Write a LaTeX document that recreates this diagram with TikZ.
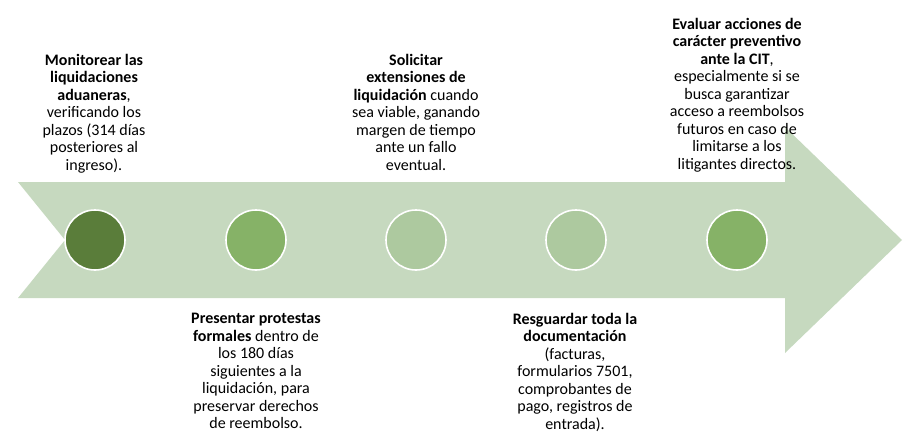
\documentclass[tikz,border=0pt]{standalone}
\usepackage{fontspec}
\setmainfont{Carlito}
\definecolor{arrowc}{HTML}{C6D9BF}
\definecolor{dkg}{HTML}{5A7D3A}
\definecolor{mdg}{HTML}{86B267}
\definecolor{ltg}{HTML}{ADC99F}
\begin{document}
\begin{tikzpicture}[x=1pt,y=-1pt,
  dot/.style={circle, minimum size=60pt, inner sep=0pt, draw=white, line width=1.6pt},
  txt/.style={align=center, inner sep=0pt, anchor=north, font=\fontsize{16}{17.5}\selectfont}]
\useasboundingbox (0,0) rectangle (912,444);
\fill[arrowc] (18,182) -- (785,182) -- (785,127) -- (902,240) -- (785,353) -- (785,298) -- (18,298) -- (65,240) -- cycle;
\node[dot, fill=dkg] (c1) at (95,240) {};
\node[dot, fill=mdg] (c2) at (256,240) {};
\node[dot, fill=ltg] (c3) at (416,240) {};
\node[dot, fill=ltg] (c4) at (576,240) {};
\node[dot, fill=mdg] (c5) at (737,240) {};
\node[txt] (t1) at (94,54) {\textbf{Monitorear las}\\\textbf{liquidaciones}\\\textbf{aduaneras},\\verificando los\\plazos (314 días\\posteriores al\\ingreso).};
\node[txt] (t2) at (416,54) {\textbf{Solicitar}\\\textbf{extensiones de}\\\textbf{liquidación} cuando\\sea viable, ganando\\margen de tiempo\\ante un fallo\\eventual.};
\node[txt] (t3) at (737,18) {\textbf{Evaluar acciones de}\\\textbf{carácter preventivo}\\\textbf{ante la CIT},\\especialmente si se\\busca garantizar\\acceso a reembolsos\\futuros en caso de\\limitarse a los\\litigantes directos.};
\node[txt] (t4) at (256,313) {\textbf{Presentar protestas}\\\textbf{formales} dentro de\\los 180 días\\siguientes a la\\liquidación, para\\preservar derechos\\de reembolso.};
\node[txt] (t5) at (575,313) {\textbf{Resguardar toda la}\\\textbf{documentación}\\(facturas,\\formularios 7501,\\comprobantes de\\pago, registros de\\entrada).};
\end{tikzpicture}
\end{document}
